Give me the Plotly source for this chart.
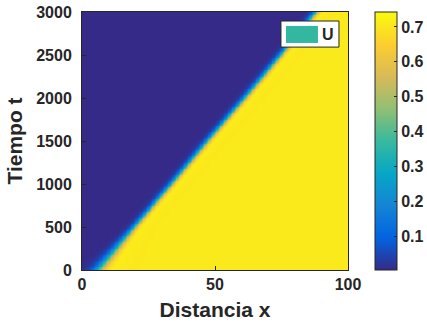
import numpy as np
import plotly.graph_objects as go

# ---- data ----
t_front = [0, 500, 1000, 1500, 2000, 2500, 3000]          # Tiempo t
x_front = [6.0, 19.5, 33.5, 47.0, 61.0, 74.5, 87.8]       # front position (Distancia x)
w_front = [1.5, 0.85, 0.8, 0.8, 0.8, 0.8, 0.8]            # front width
u_ahead = 0.003       # value ahead of the front (left side)
u_behind = 0.705      # plateau behind the front (right side)
u_peak = 0.743        # maximum just behind the front
x_ticks = [0, 50, 100]
t_ticks = [0, 500, 1000, 1500, 2000, 2500, 3000]
cb_ticks = [0.1, 0.2, 0.3, 0.4, 0.5, 0.6, 0.7]
legend_name = "U"

x = np.linspace(0, 100, 201)
t = np.linspace(0, 3000, 301)
xf = np.interp(t, t_front, x_front)[:, None]
wf = np.interp(t, t_front, w_front)[:, None]
X = x[None, :]
step = 1.0 / (1.0 + np.exp(-(X - xf) / wf))
bump = np.exp(-((X - (xf + 2.0 * wf)) / (2.5 * wf)) ** 2) * step
z = u_ahead + (u_behind - u_ahead) * step + (u_peak - u_behind) * bump

parula = [[0, "#352a87"], [0.125, "#0363e1"], [0.25, "#1485d4"], [0.375, "#06a7c6"],
          [0.5, "#38b99e"], [0.625, "#92bf73"], [0.75, "#d9ba56"], [0.875, "#fcce2e"],
          [1, "#f9fb0e"]]

font = "Liberation Sans, Arial, sans-serif"
dark = "#262626"

W, H = 427, 329
ML, MR, MT, MB = 82, 79, 12, 59

fig = go.Figure()
fig.add_trace(go.Heatmap(
    x=x, y=t, z=z, colorscale=parula, zmin=u_ahead, zmax=u_peak, zsmooth="best",
    showlegend=False,
    colorbar=dict(
        xref="container", x=375 / W, xanchor="left", xpad=0,
        y=0.5, yanchor="middle", len=1, ypad=0,
        thickness=22, outlinewidth=1, outlinecolor=dark,
        tickvals=cb_ticks, ticktext=[f"{v:.1f}" for v in cb_ticks],
        ticks="inside", ticklen=3, tickcolor=dark,
        tickfont=dict(family=font, size=16, color=dark, weight="bold"),
    ),
))

axis_common = dict(
    showline=True, mirror=True, linecolor=dark, linewidth=1, automargin=False,
    ticks="inside", ticklen=4, tickcolor=dark, showgrid=False, zeroline=False,
    ticklabeloverflow="allow",
    tickfont=dict(family=font, size=16, color=dark, weight="bold"),
)
fig.update_layout(
    width=W, height=H,
    margin=dict(l=ML, r=MR, t=MT, b=MB),
    paper_bgcolor="white", plot_bgcolor="white",
    showlegend=False,
    xaxis=dict(range=[0, 100], tickvals=x_ticks,
               title=dict(text="Distancia x", standoff=10,
                          font=dict(family=font, size=21, color=dark, weight="bold")),
               **axis_common),
    yaxis=dict(range=[0, 3000], tickvals=t_ticks, ticklabelstandoff=6,
               title=dict(text="Tiempo t", standoff=7,
                          font=dict(family=font, size=21, color=dark, weight="bold")),
               **axis_common),
)

# legend box (MATLAB style) drawn in plot-area fractions
fig.add_shape(type="rect", xref="paper", yref="paper", x0=0.748, x1=0.966, y0=0.864, y1=0.965,
              fillcolor="white", line=dict(color=dark, width=1), layer="above")
fig.add_shape(type="rect", xref="paper", yref="paper", x0=0.767, x1=0.887, y0=0.880, y1=0.946,
              fillcolor="#33b7a0", line=dict(width=0), layer="above")
fig.add_annotation(xref="paper", yref="paper", x=0.926, y=0.913, text=legend_name,
                   showarrow=False, xanchor="center", yanchor="middle",
                   font=dict(family=font, size=16, color=dark, weight="bold"))

# remove the browser's default 8px body margin so the figure sits at the page corner
fig.write_html("out.html", config={"displayModeBar": False},
               post_script="document.body.style.margin='0px';")
